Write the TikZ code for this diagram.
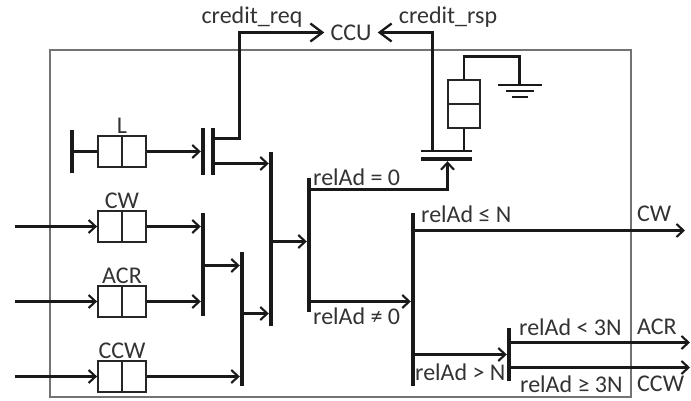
\documentclass[tikz,border=0pt]{standalone}
\usepackage{fontspec}
\setmainfont{Carlito}
\usetikzlibrary{arrows.meta}
\tikzset{
  lbl/.style={inner sep=0pt, text=black!80, font=\fontsize{24}{26}\selectfont},
  sig/.style={line width=2.3pt, black!90, -{Straight Barb[length=7pt,width=13pt,line width=2.1pt]}},
  sigbig/.style={line width=2.1pt, black!90, -{Straight Barb[length=12pt,width=18pt,line width=2.3pt]}},
  wire/.style={line width=2.1pt, black!90},
  vbar/.style={fill=black!90, inner sep=0pt, minimum width=4pt},
  hbar/.style={fill=black!90, inner sep=0pt},
  buf/.style={draw=black!85, line width=1.8pt, inner sep=0pt, minimum width=48pt, minimum height=31pt},
  bufv/.style={draw=black!85, line width=1.8pt, inner sep=0pt, minimum width=32pt, minimum height=48pt}
}
\begin{document}
\begin{tikzpicture}[x=1pt, y=-1pt]
            \useasboundingbox (0,0) rectangle (691,401);
            % Router frame
            \node[draw=black!55, line width=1.6pt, inner sep=0pt, minimum width=581pt, minimum height=347pt] (frame) at (340.5,223.5) {};
            % Buffers
            \foreach \name/\ypos/\txt in {bufL/151.5/L, bufCW/226.5/CW, bufACR/301.5/ACR, bufCCW/376.5/CCW} {
                \node[buf] (\name) at (122,\ypos) {};
                \draw[line width=2pt, black!85] (\name.north) -- (\name.south);
                \node[lbl, above=1pt] (\name txt) at (\name.north) {\txt};
            }
            \node[bufv] (bufG) at (464,104) {};
            \draw[line width=2pt, black!85] (bufG.west) -- (bufG.east);
            % Bars
            \node[vbar, minimum height=43pt] (stopL) at (72,151.5) {};
            \node[vbar, minimum height=47pt] (gateA) at (203,151.5) {};
            \node[vbar, minimum height=47pt] (gateB) at (213,151.5) {};
            \node[vbar, minimum height=103pt] (muxA) at (203,264.5) {};
            \node[vbar, minimum height=134pt] (muxB) at (242,319) {};
            \node[vbar, minimum height=174pt] (muxC) at (271,239) {};
            \node[vbar, minimum height=134pt] (demuxA) at (309,245) {};
            \node[vbar, minimum height=173pt] (demuxB) at (413,299.5) {};
            \node[vbar, minimum height=53pt] (demuxC) at (509,354.5) {};
            \node[hbar, minimum width=51pt, minimum height=2pt] (gateC) at (446.5,151) {};
            \node[hbar, minimum width=51pt, minimum height=4pt] (gateD) at (446.5,159) {};
            % Ground
            \node[hbar, minimum width=44pt, minimum height=2pt] (gndA) at (519.5,85) {};
            \node[hbar, minimum width=28pt, minimum height=2pt] (gndB) at (519.5,91) {};
            \node[hbar, minimum width=16pt, minimum height=2pt] (gndC) at (519.5,97) {};
            % Texts
            \node[lbl, inner sep=6pt] (ccu) at (351,33) {CCU};
            \node[lbl] (reqtxt) at (252,17) {credit\_req};
            \node[lbl] (rsptxt) at (448,17) {credit\_rsp};
            \node[lbl, anchor=west] (eq) at (313,177) {relAd = 0};
            \node[lbl, anchor=west] (ne) at (313,316) {relAd ≠ 0};
            \node[lbl, anchor=west] (le) at (421,214) {relAd ≤ N};
            \node[lbl, anchor=west] (gt) at (415,372) {relAd > N};
            \node[lbl, anchor=west] (lt) at (519,327) {relAd < 3N};
            \node[lbl, anchor=west] (ge) at (520,384) {relAd ≥ 3N};
            \node[lbl, anchor=west] (outCW) at (637,214) {CW};
            \node[lbl, anchor=west] (outACR) at (637,327) {ACR};
            \node[lbl, anchor=west] (outCCW) at (637,384) {CCW};
            % Free ends
            \coordinate (inCW) at (15,226.5);
            \coordinate (inACR) at (15,301.5);
            \coordinate (inCCW) at (15,376.5);
            \coordinate (endCW) at (685,230.5);
            \coordinate (endACR) at (690,342.5);
            \coordinate (endCCW) at (690,367.5);
            % Inputs
            \draw[sig] (inCW) -- (bufCW.west);
            \draw[sig] (inACR) -- (bufACR.west);
            \draw[sig] (inCCW) -- (bufCCW.west);
            % Buffers to bars
            \draw[wire] (stopL) -- (bufL.west);
            \draw[sig] (bufL.east) -- (gateA.west |- bufL.east);
            \draw[sig] (bufCW.east) -- (muxA.west |- bufCW.east);
            \draw[sig] (bufACR.east) -- (muxA.west |- bufACR.east);
            \draw[sig] (bufCCW.east) -- (muxB.west |- bufCCW.east);
            \draw[sig] (muxA.center |- 0,265.5) -- (muxB.west |- 0,265.5);
            \draw[sig] (muxB.center |- 0,313.5) -- (muxC.west |- 0,313.5);
            \draw[sig] (gateB.center |- 0,163.5) -- (muxC.west |- 0,163.5);
            \draw[sig] (muxC.center |- 0,241.5) -- (demuxA.west |- 0,241.5);
            % Credit paths
            \draw[sigbig] (gateB.center |- 0,138.5) -| (239.5,32.5) -- (ccu.west |- 0,32.5);
            \draw[sigbig] (gateC.north -| 432.5,0) |- (ccu.east |- 0,32.5);
            \draw[sig] (demuxA.center |- 0,189.5) -| (gateD.south -| 447.5,0);
            \draw[wire] (gateC.center -| bufG.south) -- (bufG.south);
            \draw[wire] (bufG.north) |- (519.5,56.5) -- (gndA.north);
            % Outputs
            \draw[sig] (demuxA.center |- 0,301.5) -- (demuxB.west |- 0,301.5);
            \draw[sig] (demuxB.center |- 0,230.5) -- (endCW);
            \draw[sig] (demuxB.center |- 0,354.5) -- (demuxC.west |- 0,354.5);
            \draw[sig] (demuxC.center |- 0,342.5) -- (endACR);
            \draw[sig] (demuxC.center |- 0,367.5) -- (endCCW);
\end{tikzpicture}
\end{document}
